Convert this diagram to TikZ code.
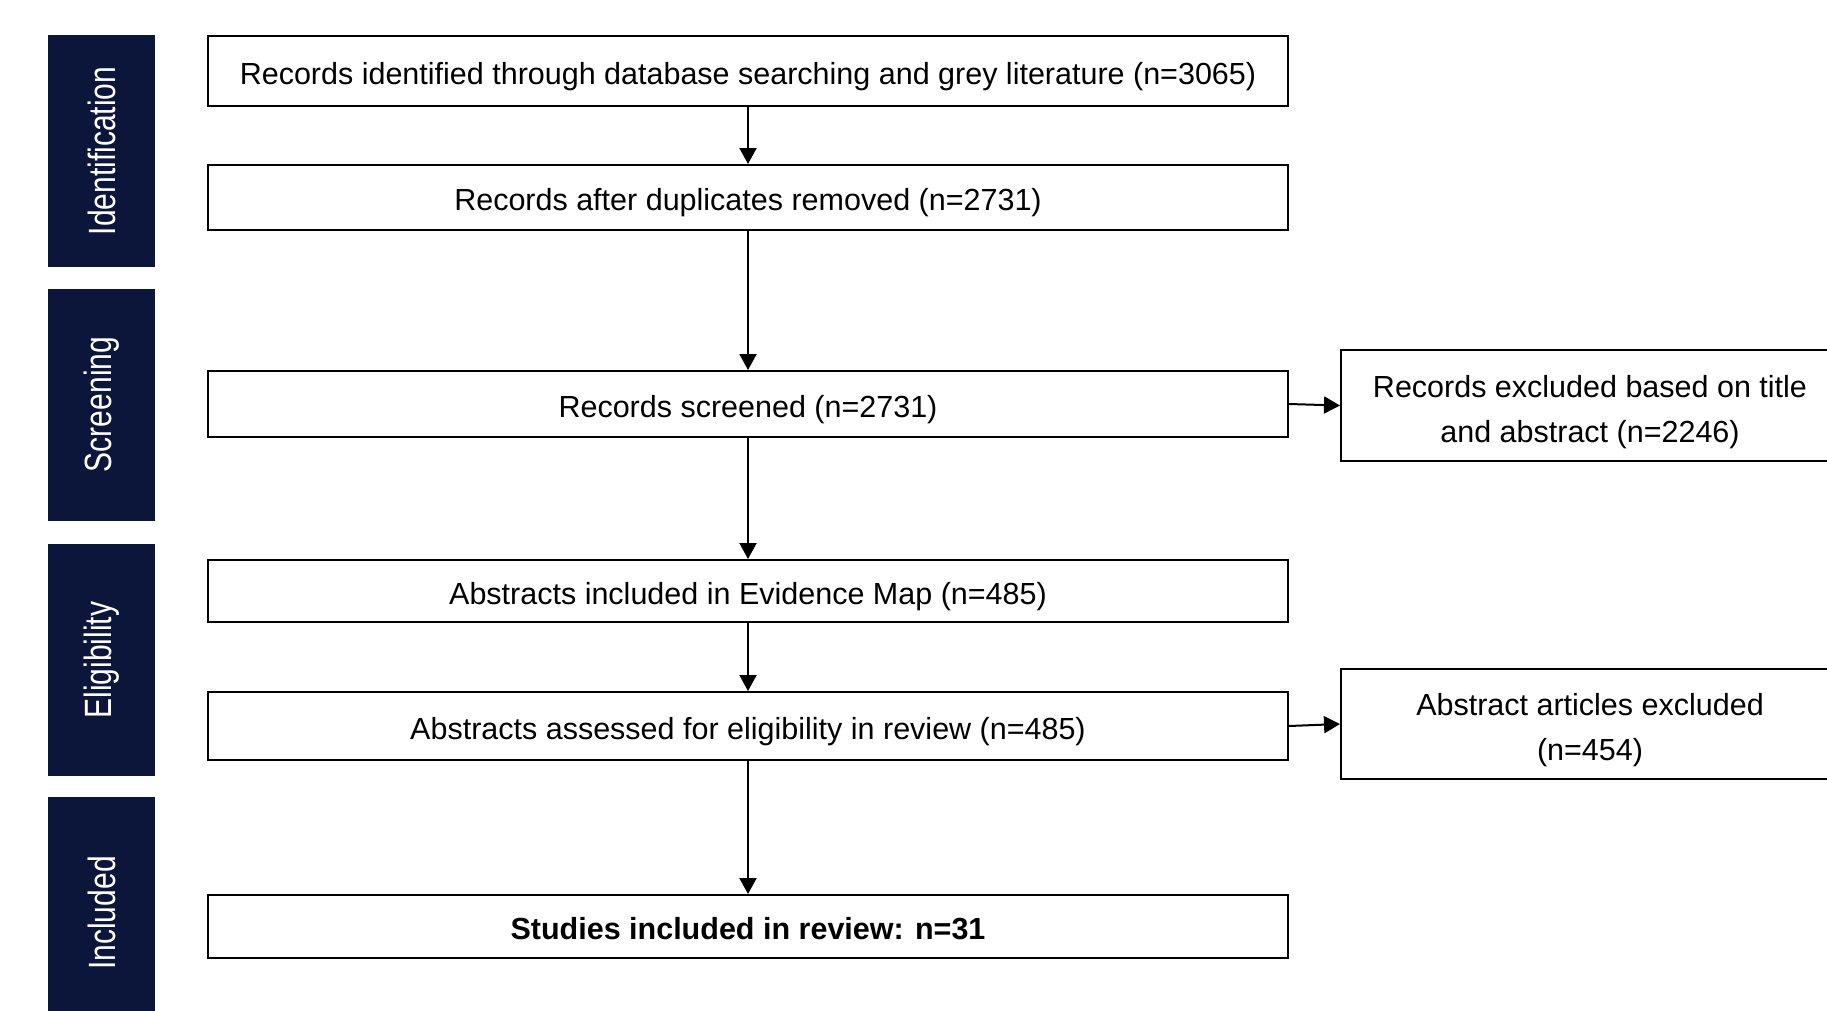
\documentclass[tikz,border=0pt]{standalone}
\usepackage{fontspec}
\setmainfont{Liberation Sans}
\usetikzlibrary{arrows.meta}
\definecolor{navy}{RGB}{11,22,58}
\begin{document}
\begin{tikzpicture}[x=1pt,y=-1pt,
  mainbox/.style={draw=black, line width=2pt, minimum width=1080pt, inner sep=0pt,
    font=\fontsize{30.5}{45}\selectfont, align=center, text height=26pt, text depth=0pt},
  sidebox/.style={draw=black, line width=2pt, minimum width=498pt, minimum height=110pt,
    inner sep=0pt, font=\fontsize{30.5}{45}\selectfont, align=center, text height=80pt},
  phase/.style={fill=navy, text=white, rotate=90, minimum width=232pt, minimum height=107pt,
    inner sep=0pt, font=\fontsize{38}{40}\selectfont},
  arr/.style={line width=2pt, -{Triangle[length=16pt,width=17pt]}}]
\useasboundingbox (0,0) rectangle (1827,1010);
\clip (0,0) rectangle (1827,1010);

\node[phase] (pid) at (101.5,151) {\scalebox{0.79}[1]{Identification}};
\node[phase] (psc) at (101.5,404.5) {\scalebox{0.79}[1]{Screening}};
\node[phase] (pel) at (101.5,660) {\scalebox{0.79}[1]{Eligibility}};
\node[phase] (pin) at (101.5,913) {\scalebox{0.79}[1]{Included}};

\node[mainbox, minimum height=70pt] (b1) at (748,71) {Records identified through database searching and grey literature (n=3065)};
\node[mainbox, minimum height=65pt] (b2) at (748,197.5) {Records after duplicates removed (n=2731)};
\node[mainbox, minimum height=66pt] (b3) at (748,404) {Records screened (n=2731)};
\node[mainbox, minimum height=62pt] (b4) at (748,591) {Abstracts included in Evidence Map (n=485)};
\node[mainbox, minimum height=68pt] (b5) at (748,726) {Abstracts assessed for eligibility in review (n=485)};
\node[mainbox, minimum height=63pt] (b6) at (748,926.5) {\textbf{Studies included in review: n=31}};

\node[sidebox, minimum height=111pt] (r1) at (1590,405.5) {Records excluded based on title\\and abstract (n=2246)};
\node[sidebox] (r2) at (1590,724) {Abstract articles excluded\\(n=454)};

\draw[arr] (b1.south) -- (b2.north);
\draw[arr] (b2.south) -- (b3.north);
\draw[arr] (b3.south) -- (b4.north);
\draw[arr] (b4.south) -- (b5.north);
\draw[arr] (b5.south) -- (b6.north);
\draw[arr] (b3.east) -- (r1.west);
\draw[arr] (b5.east) -- (r2.west);
\end{tikzpicture}
\end{document}
